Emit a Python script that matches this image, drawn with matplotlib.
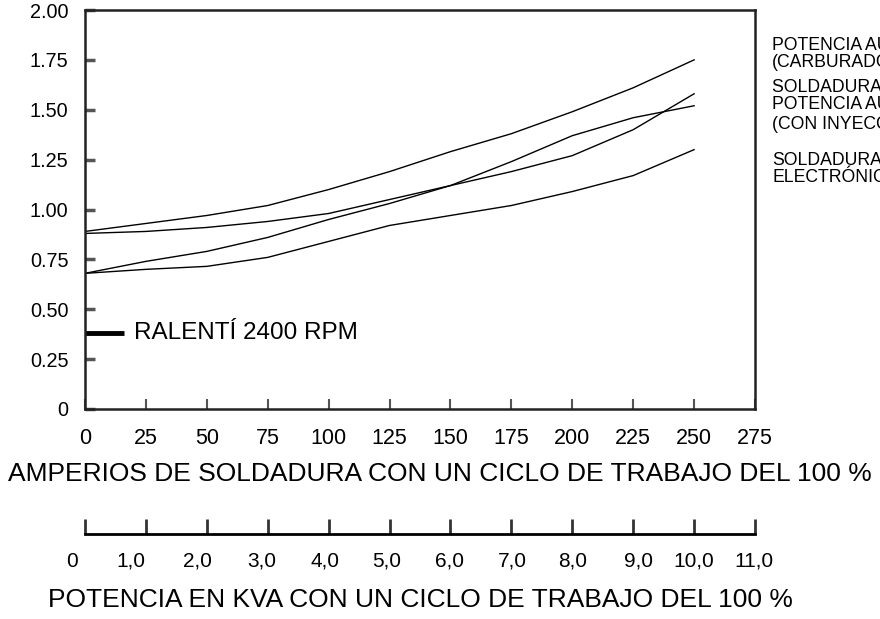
import matplotlib.pyplot as plt

plt.rcParams['font.family'] = ['Liberation Sans', 'DejaVu Sans']

# welding amps (x) and curves
amps = [0, 25, 50, 75, 100, 125, 150, 175, 200, 225, 250]
carburador = [0.89, 0.93, 0.97, 1.02, 1.10, 1.19, 1.29, 1.38, 1.49, 1.61, 1.75]
inyeccion = [0.88, 0.89, 0.91, 0.94, 0.98, 1.05, 1.12, 1.19, 1.27, 1.40, 1.58]
soldadura = [0.68, 0.74, 0.79, 0.86, 0.95, 1.03, 1.12, 1.24, 1.37, 1.46, 1.52]
electronica = [0.68, 0.70, 0.715, 0.76, 0.84, 0.92, 0.97, 1.02, 1.09, 1.17, 1.30]

ralenti_y = 0.38
ralenti_x = [0, 16]

y_ticks = [0, 0.25, 0.5, 0.75, 1.0, 1.25, 1.5, 1.75, 2.0]
y_labels = ['0', '0.25', '0.50', '0.75', '1.00', '1.25', '1.50', '1.75', '2.00']
x_ticks = [0, 25, 50, 75, 100, 125, 150, 175, 200, 225, 250, 275]
kva_ticks = [0, 1, 2, 3, 4, 5, 6, 7, 8, 9, 10, 11]
kva_labels = ['0', '1,0', '2,0', '3,0', '4,0', '5,0', '6,0', '7,0', '8,0', '9,0', '10,0', '11,0']
# the kVA labels are not quite centred under their ticks in the original
kva_label_nudge = [-9.4, -10.8, -6.5, -4.3, -2.9, -2.2, -0.7, 0.7, 0, 3.6, 0, -0.7]

legend_blocks = [
    (1 - 54 / 619, 'POTENCIA AUXILIAR\n(CARBURADOR)'),
    (1 - 106 / 619, 'SOLDADURA Y\nPOTENCIA AUXILIAR\n(CON INYECCIÓN)'),
    (1 - 169 / 619, 'SOLDADURA\nELECTRÓNICA'),
]

fig = plt.figure(figsize=(8.8, 6.19), dpi=100)
ax = fig.add_axes([85 / 880, 1 - 409 / 619, 670 / 880, 399 / 619])

for ys in [carburador, inyeccion, soldadura, electronica]:
    ax.plot(amps, ys, color='black', lw=1.0)

ax.plot(ralenti_x, [ralenti_y, ralenti_y], color='black', lw=3.5, solid_capstyle='butt')
ax.text(20, ralenti_y, 'RALENTÍ 2400 RPM', fontsize=17.5, va='center', ha='left')

ax.set_xlim(0, 275)
ax.set_ylim(0, 2.0)
ax.set_xticks(x_ticks)
ax.set_xticklabels([str(t) for t in x_ticks])
ax.set_yticks(y_ticks)
ax.set_yticklabels(y_labels)
ax.tick_params(axis='y', direction='in', length=7, width=2.5, color='#555555',
               labelsize=14.3, pad=12)
ax.tick_params(axis='x', direction='in', length=7, width=1.5, color='#555555',
               labelsize=15.5, pad=14)
for s in ax.spines.values():
    s.set_linewidth(1.8)
    s.set_edgecolor('#222222')

fig.text(440 / 880, 1 - 474 / 619, 'AMPERIOS DE SOLDADURA CON UN CICLO DE TRABAJO DEL 100 %',
         fontsize=19, ha='center', va='center')

for yy, txt in legend_blocks:
    fig.text(772 / 880, yy, txt, fontsize=12.7, va='center', ha='left', linespacing=0.95)

# second scale: kVA
ax2 = fig.add_axes([85 / 880, 1 - 534 / 619, 670 / 880, 0.001])
ax2.set_xlim(0, 11)
ax2.set_ylim(0, 1)
for side in ['top', 'left', 'right']:
    ax2.spines[side].set_visible(False)
ax2.spines['bottom'].set_linewidth(2)
ax2.set_yticks([])
ax2.set_xticks(kva_ticks)
ax2.set_xticklabels([])
ax2.tick_params(axis='x', direction='in', length=11, width=2, color='#333333')
ax2.patch.set_visible(False)
for t, lab, dx in zip(kva_ticks, kva_labels, kva_label_nudge):
    ax2.annotate(lab, (t, 0), xytext=(dx, -19.5), textcoords='offset points',
                 ha='center', va='center', fontsize=15, annotation_clip=False)

fig.text(420 / 880, 1 - 600 / 619, 'POTENCIA EN KVA CON UN CICLO DE TRABAJO DEL 100 %',
         fontsize=19, ha='center', va='center')

fig.savefig('out.png', dpi=100)
